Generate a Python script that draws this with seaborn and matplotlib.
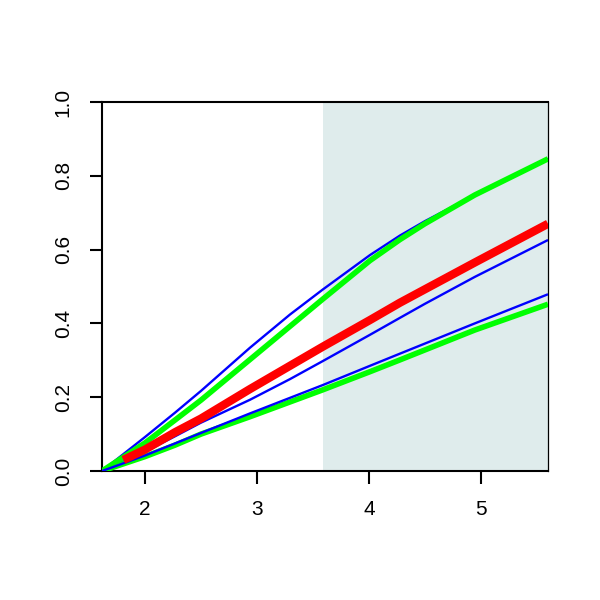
import numpy as np
import pandas as pd
import matplotlib
matplotlib.use("Agg")
import matplotlib.pyplot as plt
import seaborn as sns

# Data
x_ub = [1.616, 2.0, 2.268, 2.5, 2.9375, 3.295, 3.589, 4.009, 4.277, 4.5, 4.946, 5.6]
upper_blue = [0.0, 0.092, 0.158, 0.217, 0.334, 0.424, 0.492, 0.585, 0.638, 0.677, 0.748, 0.846]

x_ug = [1.616, 2.0, 2.268, 2.5, 2.9375, 3.295, 3.589, 4.009, 4.277, 4.5, 4.946, 5.6]
upper_green = [0.0, 0.076, 0.138, 0.192, 0.302, 0.392, 0.466, 0.570, 0.627, 0.670, 0.748, 0.846]

x_red = [1.807, 2.0, 2.268, 2.5, 2.9375, 3.589, 4.009, 4.277, 4.946, 5.6]
red = [0.030, 0.058, 0.105, 0.142, 0.222, 0.337, 0.409, 0.456, 0.565, 0.670]

x_mb = [1.616, 2.0, 2.268, 2.5, 2.9375, 3.295, 3.589, 4.009, 4.277, 4.5, 4.946, 5.6]
mid_blue = [0.0, 0.052, 0.094, 0.131, 0.193, 0.249, 0.298, 0.369, 0.415, 0.453, 0.526, 0.626]

x_lb = [1.616, 2.0, 2.5, 2.9375, 3.589, 4.009, 4.277, 4.946, 5.6]
lower_blue = [0.0, 0.042, 0.103, 0.156, 0.233, 0.285, 0.318, 0.400, 0.479]

x_lg = [1.616, 2.0, 2.268, 2.5, 2.9375, 3.589, 4.009, 4.277, 4.946, 5.6]
lower_green = [0.0, 0.039, 0.070, 0.100, 0.147, 0.220, 0.269, 0.301, 0.382, 0.452]

shade_start = 3.59
x_ticks = [2, 3, 4, 5]
y_ticks = [0.0, 0.2, 0.4, 0.6, 0.8, 1.0]
y_tick_labels = ["0.0", "0.2", "0.4", "0.6", "0.8", "1.0"]

sns.set_style("white")
plt.rcParams["font.family"] = ["Liberation Sans", "DejaVu Sans"]

fig = plt.figure(figsize=(6, 6), dpi=100)
ax = fig.add_axes([102 / 600, 1 - 471 / 600, 446 / 600, 369 / 600])

ax.axvspan(shade_start, 5.6, color="#DFECEC", lw=0, zorder=0)

def draw(xs, ys, color, lw, z):
    df = pd.DataFrame({"x": xs, "y": ys})
    sns.lineplot(data=df, x="x", y="y", color=color, lw=lw, ax=ax,
                 sort=False, estimator=None, zorder=z,
                 solid_joinstyle="round", solid_capstyle="butt")

draw(x_ub, upper_blue, "#0000FF", 1.7, 2)
draw(x_mb, mid_blue, "#0000FF", 1.7, 2)
draw(x_lb, lower_blue, "#0000FF", 1.7, 4)
draw(x_ug, upper_green, "#00FF00", 4.0, 3)
draw(x_lg, lower_green, "#00FF00", 4.0, 3)
draw(x_red, red, "#FF0000", 6.0, 5)

ax.set_xlim(1.616, 5.6)
ax.set_ylim(0, 1.0)
ax.set_xlabel("")
ax.set_ylabel("")
ax.set_xticks(x_ticks)
ax.set_xticklabels([str(v) for v in x_ticks])
ax.set_yticks(y_ticks)
ax.set_yticklabels(y_tick_labels, rotation=90, va="center")

ax.tick_params(axis="both", direction="out", length=9, width=1.5,
               color="black", labelsize=15, pad=12, labelcolor="black",
               bottom=True, left=True)

for side in ["left", "bottom", "top"]:
    ax.spines[side].set_color("black")
    ax.spines[side].set_linewidth(1.5)
    ax.spines[side].set_visible(True)
ax.spines["right"].set_color("black")
ax.spines["right"].set_linewidth(0.9)
ax.spines["right"].set_visible(True)

fig.savefig("out.png", dpi=100, facecolor="white")
